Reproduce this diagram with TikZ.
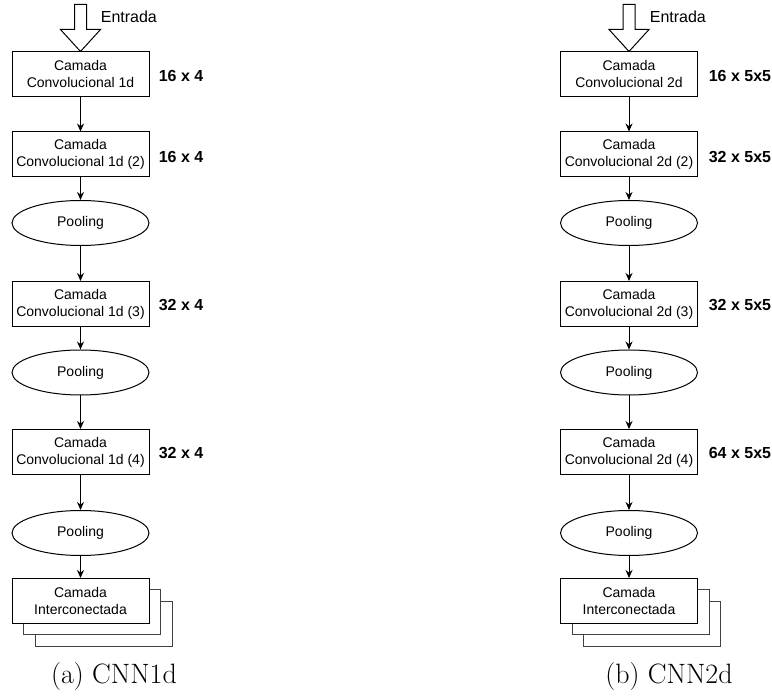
\documentclass[tikz,border=0pt]{standalone}
\usepackage{fontspec}
\newfontfamily\arialfont{Liberation Sans}
\usetikzlibrary{arrows.meta,shapes.geometric}

\begin{document}
\begin{tikzpicture}[x=1pt,y=-1pt,line width=1pt,
	>={Stealth[length=8pt,width=7pt]},
	every node/.style={font=\arialfont\fontsize{14}{17}\selectfont},
	camada/.style={draw,fill=white,rectangle,align=center,
		minimum width=137pt,minimum height=45pt,inner sep=0pt},
	pool/.style={draw,fill=white,ellipse,minimum width=137pt,
		minimum height=45pt,inner sep=0pt},
	pilha/.style={draw=black!75,rectangle,minimum width=137pt,
		minimum height=45pt,inner sep=0pt},
	dim/.style={anchor=west,font=\arialfont\bfseries\fontsize{16}{19}\selectfont},
	legenda/.style={font=\rmfamily\fontsize{28}{34}\selectfont}]
	\useasboundingbox (0,0) rectangle (772,700);
	
	% CNN1d
	\node[camada] (a1) at (80.5,74.5) {Camada\\Convolucional 1d};
	\node[camada] (a2) at (80.5,154.5) {Camada\\Convolucional 1d (2)};
	\node[pool] (ap1) at (80.5,223) {Pooling};
	\node[camada] (a3) at (80.5,304) {Camada\\Convolucional 1d (3)};
	\node[pool] (ap2) at (80.5,372.5) {Pooling};
	\node[camada] (a4) at (80.5,452) {Camada\\Convolucional 1d (4)};
	\node[pool] (ap3) at (80.5,533) {Pooling};
	\node[pilha] (afc3) at (103.5,624) {};
	\node[pilha,fill=white] (afc2) at (92,612.5) {};
	\node[camada] (afc) at (80.5,601) {Camada\\Interconectada};
	
	\node[dim] (ad1) at (155,76) {16 x 4};
	\node[dim] (ad2) at (155,157) {16 x 4};
	\node[dim] (ad3) at (155,305) {32 x 4};
	\node[dim] (ad4) at (155,453) {32 x 4};
	
	\draw[fill=white] (a1.north) -- ++(-20,-22) -- ++(14,0) -- ++(0,-25)
		-- ++(12,0) -- ++(0,25) -- ++(14,0) -- cycle;
	\node[anchor=west,font=\arialfont\fontsize{16}{19}\selectfont] (ain) at (97,17) {Entrada};
	
	\draw[->] (a1) -- (a2);
	\draw[->] (a2) -- (ap1);
	\draw[->] (ap1) -- (a3);
	\draw[->] (a3) -- (ap2);
	\draw[->] (ap2) -- (a4);
	\draw[->] (a4) -- (ap3);
	\draw[->] (ap3) -- (afc);
	
	\node[legenda] (acap) at (114,677) {(a) CNN1d};
	
	% CNN2d
	\node[camada] (b1) at (629,74.5) {Camada\\Convolucional 2d};
	\node[camada] (b2) at (629,154.5) {Camada\\Convolucional 2d (2)};
	\node[pool] (bp1) at (629,223) {Pooling};
	\node[camada] (b3) at (629,304) {Camada\\Convolucional 2d (3)};
	\node[pool] (bp2) at (629,372.5) {Pooling};
	\node[camada] (b4) at (629,452) {Camada\\Convolucional 2d (4)};
	\node[pool] (bp3) at (629,533) {Pooling};
	\node[pilha] (bfc3) at (652,624) {};
	\node[pilha,fill=white] (bfc2) at (640.5,612.5) {};
	\node[camada] (bfc) at (629,601) {Camada\\Interconectada};
	
	\node[dim] (bd1) at (705,76) {16 x 5x5};
	\node[dim] (bd2) at (705,157) {32 x 5x5};
	\node[dim] (bd3) at (705,305) {32 x 5x5};
	\node[dim] (bd4) at (705,453) {64 x 5x5};
	
	\draw[fill=white] (b1.north) -- ++(-20,-22) -- ++(14,0) -- ++(0,-25)
		-- ++(12,0) -- ++(0,25) -- ++(14,0) -- cycle;
	\node[anchor=west,font=\arialfont\fontsize{16}{19}\selectfont] (bin) at (646,17) {Entrada};
	
	\draw[->] (b1) -- (b2);
	\draw[->] (b2) -- (bp1);
	\draw[->] (bp1) -- (b3);
	\draw[->] (b3) -- (bp2);
	\draw[->] (bp2) -- (b4);
	\draw[->] (b4) -- (bp3);
	\draw[->] (bp3) -- (bfc);
	
	\node[legenda] (bcap) at (669,677) {(b) CNN2d};
\end{tikzpicture}
\end{document}
